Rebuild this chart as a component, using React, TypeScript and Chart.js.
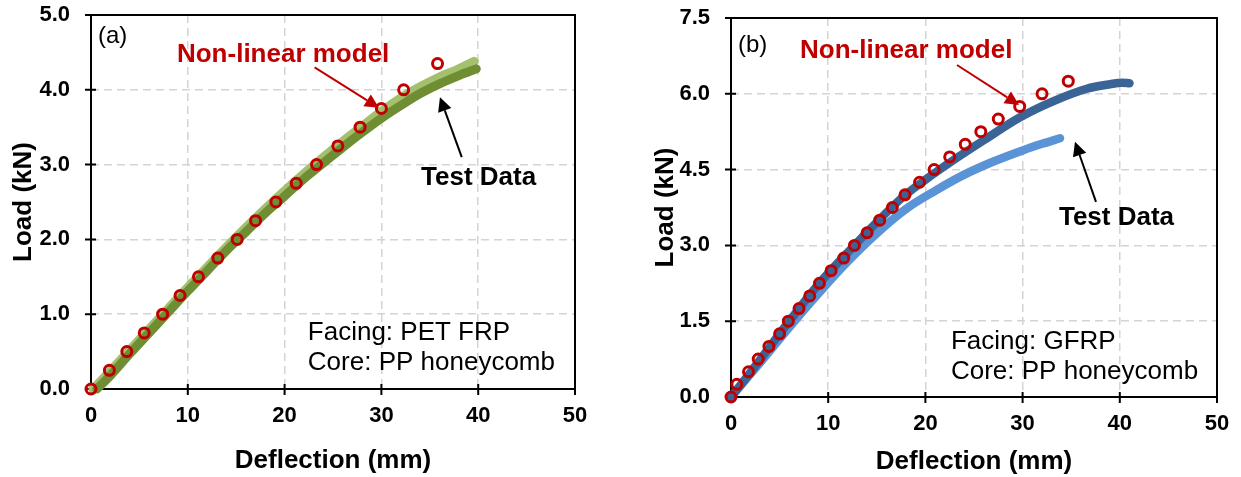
import { useEffect, useRef } from "react";
import { Chart, registerables } from "chart.js";

Chart.register(...registerables);

const FONT = '"Liberation Sans", Arial, sans-serif';

// ---------- tick labels ----------
const xTicks = [0, 10, 20, 30, 40, 50];
const yTicksA = [0, 1, 2, 3, 4, 5];
const yTicksB = [0, 1.5, 3, 4.5, 6, 7.5];

// ---------- panel (a): PET FRP facing ----------
const modelAX = [0, 1.9, 3.7, 5.5, 7.4, 9.2, 11.1, 13.1, 15.1, 17.0, 19.1, 21.2, 23.3, 25.5, 27.8, 30.0, 32.3, 35.8];
const modelAY = [0, 0.25, 0.5, 0.75, 1.0, 1.25, 1.5, 1.75, 2.0, 2.25, 2.5, 2.75, 3.0, 3.25, 3.5, 3.75, 4.0, 4.35];

// light green specimen
const testA1X = [0.2, 2, 4, 6, 8, 10, 12, 14, 16, 18, 20, 22, 24, 26, 28, 30, 32, 34, 36, 38, 39.6];
const testA1Y = [0, 0.24, 0.52, 0.8, 1.08, 1.36, 1.63, 1.9, 2.16, 2.41, 2.65, 2.88, 3.1, 3.31, 3.51, 3.71, 3.89, 4.04, 4.17, 4.28, 4.38];

// dark green specimen
const testA2X = [0.6, 2, 4, 6, 8, 10, 12, 14, 16, 18, 20, 22, 24, 26, 28, 30, 32, 34, 36, 38, 39.8];
const testA2Y = [0, 0.18, 0.47, 0.75, 1.03, 1.31, 1.58, 1.85, 2.1, 2.35, 2.58, 2.81, 3.02, 3.23, 3.43, 3.62, 3.79, 3.95, 4.08, 4.19, 4.28];

// ---------- panel (b): GFRP facing ----------
const modelBX = [0, 0.6, 1.8, 2.8, 3.9, 5.0, 5.9, 7.0, 8.1, 9.1, 10.3, 11.6, 12.7, 14.0, 15.3, 16.6, 17.9, 19.4, 20.9, 22.5, 24.1, 25.7, 27.5, 29.7, 32.0, 34.7];
const modelBY = [0, 0.25, 0.5, 0.75, 1.0, 1.25, 1.5, 1.75, 2.0, 2.25, 2.5, 2.75, 3.0, 3.25, 3.5, 3.75, 4.0, 4.25, 4.5, 4.75, 5.0, 5.25, 5.5, 5.75, 6.0, 6.25];

// dark blue specimen
const testB1X = [0, 1, 3, 6, 9, 12.7, 15, 17.7, 20, 22.9, 26, 29.7, 33, 36.6, 39, 40.2, 41];
const testB1Y = [0, 0.24, 0.74, 1.5, 2.23, 3.0, 3.46, 3.96, 4.3, 4.69, 5.08, 5.53, 5.84, 6.1, 6.19, 6.22, 6.21];

// light blue specimen
const testB2X = [0, 3, 6, 9, 12, 15, 18, 21, 24, 27, 30, 32, 33.85];
const testB2Y = [0, 0.68, 1.38, 2.05, 2.68, 3.24, 3.72, 4.08, 4.4, 4.66, 4.88, 5.01, 5.12];

// ---------- annotations (data coordinates) ----------
const annotA = {
  texts: [
    { t: "(a)", x: 0.72, y: 4.63, size: 24, bold: false, color: "#000" },
    { t: "Non-linear model", x: 8.88, y: 4.37, size: 26, bold: true, color: "#c00000" },
    { t: "Test Data", x: 34.1, y: 2.73, size: 26, bold: true, color: "#000" },
    { t: "Facing: PET FRP", x: 22.4, y: 0.655, size: 26, bold: false, color: "#000" },
    { t: "Core: PP honeycomb", x: 22.4, y: 0.254, size: 26, bold: false, color: "#000" },
  ],
  arrows: [
    { x1: 23.1, y1: 4.3, x2: 29.75, y2: 3.76, color: "#c00000" },
    { x1: 38.3, y1: 3.1, x2: 36.05, y2: 3.9, color: "#000" },
  ],
};

const annotB = {
  texts: [
    { t: "(b)", x: 0.72, y: 6.83, size: 24, bold: false, color: "#000" },
    { t: "Non-linear model", x: 7.1, y: 6.71, size: 26, bold: true, color: "#c00000" },
    { t: "Test Data", x: 33.74, y: 3.4, size: 26, bold: true, color: "#000" },
    { t: "Facing: GFRP", x: 22.63, y: 0.95, size: 26, bold: false, color: "#000" },
    { t: "Core: PP honeycomb", x: 22.63, y: 0.356, size: 26, bold: false, color: "#000" },
  ],
  arrows: [
    { x1: 23.25, y1: 6.57, x2: 29.63, y2: 5.78, color: "#c00000" },
    { x1: 37.55, y1: 3.86, x2: 35.39, y2: 5.05, color: "#000" },
  ],
};

function pts(xs: number[], ys: number[]) {
  return xs.map((x, i) => ({ x, y: ys[i] }));
}

function makePlugin(annot: any) {
  return {
    id: "annot",
    beforeDatasetsDraw(chart: any) {
      const { ctx, chartArea, scales } = chart;
      const { left, right, top, bottom } = chartArea;
      ctx.save();
      ctx.strokeStyle = "#000";
      ctx.lineWidth = 2;
      ctx.setLineDash([]);
      ctx.strokeRect(left, top, right - left, bottom - top);
      ctx.beginPath();
      scales.x.ticks.forEach((t: any) => {
        const px = scales.x.getPixelForValue(t.value);
        ctx.moveTo(px, bottom - 5);
        ctx.lineTo(px, bottom + 6);
      });
      scales.y.ticks.forEach((t: any) => {
        const py = scales.y.getPixelForValue(t.value);
        ctx.moveTo(left - 6, py);
        ctx.lineTo(left + 5, py);
      });
      ctx.stroke();
      ctx.restore();
    },
    afterDraw(chart: any) {
      const { ctx, scales } = chart;
      const X = (v: number) => scales.x.getPixelForValue(v);
      const Y = (v: number) => scales.y.getPixelForValue(v);
      ctx.save();
      annot.arrows.forEach((a: any) => {
        const x1 = X(a.x1), y1 = Y(a.y1), x2 = X(a.x2), y2 = Y(a.y2);
        const ang = Math.atan2(y2 - y1, x2 - x1);
        const hl = 14, hw = 7;
        const bx = x2 - hl * Math.cos(ang), by = y2 - hl * Math.sin(ang);
        ctx.strokeStyle = a.color;
        ctx.fillStyle = a.color;
        ctx.lineWidth = 2;
        ctx.beginPath();
        ctx.moveTo(x1, y1);
        ctx.lineTo(bx, by);
        ctx.stroke();
        ctx.beginPath();
        ctx.moveTo(x2, y2);
        ctx.lineTo(bx + hw * Math.sin(ang), by - hw * Math.cos(ang));
        ctx.lineTo(bx - hw * Math.sin(ang), by + hw * Math.cos(ang));
        ctx.closePath();
        ctx.fill();
      });
      annot.texts.forEach((t: any) => {
        ctx.font = `${t.bold ? "bold " : ""}${t.size}px ${FONT}`;
        ctx.fillStyle = t.color;
        ctx.textAlign = "left";
        ctx.textBaseline = "alphabetic";
        ctx.fillText(t.t, X(t.x), Y(t.y));
      });
      ctx.restore();
    },
  };
}

function makeConfig(p: any) {
  const tickFont = { family: FONT, size: 22, weight: "bold" as const };
  const titleFont = { family: FONT, size: 26, weight: "bold" as const };
  const gridColor = (max: number) => (c: any) =>
    c.tick && (c.tick.value === 0 || c.tick.value === max) ? "rgba(0,0,0,0)" : "#d4d4d4";
  return {
    type: "scatter",
    data: {
      datasets: [
        {
          data: pts(p.modelX, p.modelY),
          showLine: false,
          pointRadius: p.pr,
          pointBorderWidth: p.pbw,
          pointBorderColor: "#c00000",
          pointBackgroundColor: "rgba(0,0,0,0)",
          pointHoverRadius: p.pr,
          clip: false,
        },
        ...p.tests.map((t: any) => ({
          data: pts(t.x, t.y),
          showLine: true,
          borderColor: t.color,
          borderWidth: t.w,
          pointRadius: 0,
          borderCapStyle: "round",
          borderJoinStyle: "round",
          cubicInterpolationMode: "monotone",
          clip: false,
        })),
      ],
    },
    options: {
      responsive: false,
      animation: false,
      events: [],
      layout: { padding: { ...p.pad } },
      plugins: { legend: { display: false }, tooltip: { enabled: false } },
      scales: {
        x: {
          type: "linear",
          min: 0,
          max: 50,
          afterBuildTicks: (s: any) => {
            s.ticks = xTicks.map((v) => ({ value: v }));
          },
          afterFit: (s: any) => {
            s.height = p.xh;
          },
          ticks: {
            font: tickFont,
            color: "#000",
            padding: 0,
            maxRotation: 0,
            autoSkip: false,
            callback: (v: any) => String(v),
          },
          grid: {
            color: gridColor(50),
            lineWidth: 1.5,
            drawTicks: true,
            tickLength: 14,
            tickColor: "rgba(0,0,0,0)",
          },
          border: { display: false, dash: [8, 5] },
          title: { display: true, text: "Deflection (mm)", font: titleFont, color: "#000", padding: { top: 0, bottom: p.xtp } },
        },
        y: {
          type: "linear",
          min: 0,
          max: p.ymax,
          afterBuildTicks: (s: any) => {
            s.ticks = p.yTicks.map((v: number) => ({ value: v }));
          },
          afterFit: (s: any) => {
            s.width = p.yw;
          },
          ticks: {
            font: tickFont,
            color: "#000",
            padding: 0,
            autoSkip: false,
            callback: (v: any) => Number(v).toFixed(1),
          },
          grid: {
            color: gridColor(p.ymax),
            lineWidth: 1.5,
            drawTicks: true,
            tickLength: 21,
            tickColor: "rgba(0,0,0,0)",
          },
          border: { display: false, dash: [8, 5] },
          title: { display: true, text: "Load (kN)", font: titleFont, color: "#000", padding: { top: p.ytp, bottom: 0 } },
        },
      },
    },
    plugins: [makePlugin(p.annot)],
  } as any;
}

const panelA = {
  modelX: modelAX,
  modelY: modelAY,
  tests: [
    { x: testA2X, y: testA2Y, color: "#6f8e34", w: 9 },
    { x: testA1X, y: testA1Y, color: "#a3c06f", w: 9 },
  ],
  pr: 5,
  pbw: 3,
  ymax: 5,
  yTicks: yTicksA,
  pad: { left: 0, right: 45, top: 15, bottom: 0 },
  area: { left: 91, right: 575, top: 15, bottom: 389 },
  xh: 88,
  yw: 91,
  xtp: 1,
  ytp: 8,
  annot: annotA,
};

const panelB = {
  modelX: modelBX,
  modelY: modelBY,
  tests: [
    { x: testB1X, y: testB1Y, color: "#3b6496", w: 8.5 },
    { x: testB2X, y: testB2Y, color: "#5a93d6", w: 8.5 },
  ],
  pr: 5,
  pbw: 3,
  ymax: 7.5,
  yTicks: yTicksB,
  pad: { left: 0, right: 24, top: 18, bottom: 0 },
  area: { left: 111, right: 597, top: 18, bottom: 397 },
  xh: 80,
  yw: 111,
  xtp: 0,
  ytp: 30,
  annot: annotB,
};

function Panel({ cfg, left, width }: { cfg: any; left: number; width: number }) {
  const ref = useRef<HTMLCanvasElement | null>(null);
  useEffect(() => {
    if (!ref.current) return;
    const config = makeConfig(cfg);
    const chart = new Chart(ref.current, config);
    // nudge layout padding so the plot area sits exactly where intended
    for (let k = 0; k < 2; k++) {
      const ca = chart.chartArea;
      const pad = { ...config.options.layout.padding };
      pad.top += cfg.area.top - ca.top;
      pad.right += ca.right - cfg.area.right;
      pad.left += cfg.area.left - ca.left;
      pad.bottom += ca.bottom - cfg.area.bottom;
      config.options.layout.padding = pad;
      chart.options.layout.padding = pad;
      chart.update();
    }
    return () => chart.destroy();
  }, [cfg]);
  return (
    <div style={{ position: "absolute", left, top: 0, width, height: 477 }}>
      <canvas ref={ref} width={width} height={477} style={{ width, height: 477, display: "block" }} />
    </div>
  );
}

export default function App() {
  return (
    <div style={{ position: "absolute", left: 0, top: 0, width: 1241, height: 477, background: "#fff", overflow: "hidden" }}>
      <Panel cfg={panelA} left={0} width={620} />
      <Panel cfg={panelB} left={620} width={621} />
    </div>
  );
}
